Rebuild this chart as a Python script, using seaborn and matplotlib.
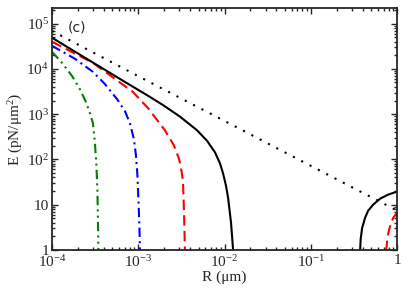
import numpy as np
import pandas as pd
import matplotlib
matplotlib.use("Agg")
import matplotlib.pyplot as plt
import seaborn as sns

# values (R in um, E in pN/um^2)
black_r1 = [1e-4, 2.76e-4, 8.02e-4, 1.26e-3, 1.94e-3, 3.05e-3, 4.80e-3, 6.27e-3,
            7.76e-3, 8.87e-3, 9.62e-3, 1.04e-2, 1.10e-2, 1.19e-2, 1.26e-2]
black_e1 = [4.89e4, 1.51e4, 4.41e3, 2.64e3, 1585, 880, 441, 258,
            143, 81.5, 48.9, 26.4, 14.3, 3.98, 0.95]
black_r2 = [0.372, 0.378, 0.393, 0.425, 0.461, 0.527, 0.635, 0.787, 1.0]
black_e2 = [0.95, 1.75, 3.08, 5.14, 7.36, 10.0, 13.6, 16.7, 19.5]

red_r1 = [1e-4, 2.99e-4, 8.69e-4, 1.30e-3, 2.04e-3, 2.59e-3, 2.96e-3, 3.13e-3,
          3.30e-3, 3.40e-3, 3.48e-3]
red_e1 = [3.98e4, 1.36e4, 3.08e3, 1.36e3, 441, 205, 105, 66.4, 34.1, 6.3, 0.95]
red_r2 = [0.745, 0.766, 0.787, 0.83, 0.90, 1.0]
red_e2 = [0.95, 1.58, 2.27, 3.41, 5.14, 6.64]

blue_r = [1e-4, 1.85e-4, 2.99e-4, 4.11e-4, 5.68e-4, 7.02e-4, 8.02e-4, 8.93e-4,
          9.42e-4, 9.80e-4, 1.007e-3, 1.033e-3, 1.047e-3]
blue_e = [3.24e4, 1.67e4, 8.58e3, 4.64e3, 2.15e3, 1.17e3, 631, 278,
          123, 44.1, 12.3, 3.41, 0.95]

green_r = [1e-4, 1.31e-4, 1.71e-4, 2.11e-4, 2.48e-4, 2.76e-4, 2.99e-4, 3.15e-4,
           3.28e-4, 3.37e-4, 3.41e-4, 3.46e-4]
green_e = [2.39e4, 1.36e4, 6.99e3, 3.59e3, 1.85e3, 1.05e3, 631, 239,
           73.6, 20.5, 5.7, 0.95]

dot_r = [1e-4, 1e-3, 1e-2, 1e-1, 1.0]
dot_e = [6.9e4, 6.9e3, 708, 72, 7.4]

xticks = [1e-4, 1e-3, 1e-2, 1e-1, 1]
xticklabels = ["$10^{-4}$", "$10^{-3}$", "$10^{-2}$", "$10^{-1}$", "1"]
yticks = [1, 10, 1e2, 1e3, 1e4, 1e5]
yticklabels = ["1", "10", "$10^2$", "$10^3$", "$10^4$", "$10^5$"]

sns.set_style("ticks")
plt.rcParams['font.family'] = ['Liberation Serif', 'DejaVu Serif']
plt.rcParams['mathtext.fontset'] = 'custom'
plt.rcParams['mathtext.rm'] = 'Liberation Serif'
plt.rcParams['mathtext.it'] = 'Liberation Serif:italic'
plt.rcParams['font.size'] = 11

fig = plt.figure(figsize=(4.15, 2.88), dpi=100)
ax = fig.add_axes([0.125, 0.132, 0.832, 0.840])

lw = 1.5
series = [
    (dot_r, dot_e, 'black', (0, (1, 3.5))),
    (green_r, green_e, 'green', (0, (4.5, 2, 1, 2, 1, 2))),
    (blue_r, blue_e, 'blue', (0, (4.5, 2, 1, 2))),
    (red_r1, red_e1, 'red', (0, (5, 2.5))),
    (red_r2, red_e2, 'red', (0, (5, 2.5))),
    (black_r1, black_e1, 'black', '-'),
    (black_r2, black_e2, 'black', '-'),
]
for r, e, c, ls in series:
    df = pd.DataFrame({'R': r, 'E': e})
    sns.lineplot(data=df, x='R', y='E', ax=ax, color=c, linestyle=ls,
                 linewidth=lw, sort=False, estimator=None)

ax.set_xscale('log')
ax.set_yscale('log')
ax.set_xlim(1e-4, 1)
ax.set_ylim(1, 2.2e5)
ax.set_xticks(xticks)
ax.set_xticklabels(xticklabels)
ax.set_yticks(yticks)
ax.set_yticklabels(yticklabels)
ax.tick_params(which='both', direction='in', top=True, right=True, width=1)
ax.tick_params(which='major', length=4, labelsize=11)
ax.tick_params(which='minor', length=2.2)
ax.tick_params(axis='x', pad=3)
ax.tick_params(axis='y', pad=2)
for s in ax.spines.values():
    s.set_linewidth(1.3)

ax.set_xlabel("R (μm)", fontsize=11, labelpad=0)
ax.set_ylabel("E (pN/μm$^2$)", fontsize=11, labelpad=1)
ax.text(0.045, 0.92, "(c)", transform=ax.transAxes, fontsize=10,
        family=['DejaVu Sans'], va='center')

fig.savefig("out.png", dpi=100)
